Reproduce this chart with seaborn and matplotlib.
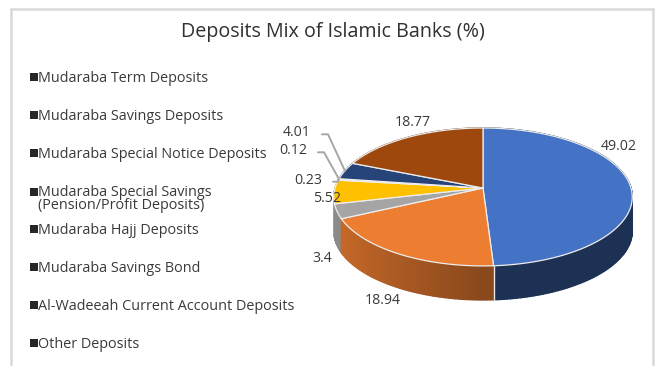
import numpy as np
import matplotlib
matplotlib.use("Agg")
import matplotlib.pyplot as plt
import seaborn as sns

TITLE = "Deposits Mix of Islamic Banks (%)"
categories = [
    "Mudaraba Term Deposits",
    "Mudaraba Savings Deposits",
    "Mudaraba Special Notice Deposits",
    "Mudaraba Special Savings\n(Pension/Profit Deposits)",
    "Mudaraba Hajj Deposits",
    "Mudaraba Savings Bond",
    "Al-Wadeeah Current Account Deposits",
    "Other Deposits",
]
# Slices run clockwise from twelve o'clock.
slice_values = [49.02, 18.94, 3.4, 5.52, 0.23, 0.12, 4.01, 18.77]
slice_colors = ["#4472C4", "#ED7D31", "#A5A5A5", "#FFC000",
                "#5B9BD5", "#70AD47", "#264478", "#9E480E"]
legend_rows = [78, 116, 154, 199, 230, 268, 306, 344]
label_places = [(619, 146), (383, 300), (322, 258), (327, 198),
                (308, 181), (293, 151), (297, 133), (413, 122)]
leader_elbows = {4: [(333, 181.7), (338, 181.7)],
                 5: [(318, 152.3), (324, 152.3)],
                 6: [(322, 134.3), (328, 134.3)]}

CX, CY = 483, 188       # pie apex in figure pixels
RX, RY = 148, 67.8      # projected radii
TILT = 0.13             # perspective strength
DEPTH = 34              # height of the side wall
FONT = "Open Sans"

sns.set_theme(style="white", rc={"font.family": FONT})
palette = sns.color_palette(slice_colors)
TEXT = "#3a3a3a"


def project(theta):
    """Map clockwise angles on the disc to the tilted pie surface."""
    u, v = np.sin(theta), -np.cos(theta)
    d = 1 - TILT * v
    return CX + RX * u / d, CY + RY * v / d


fig = plt.figure(figsize=(6.57, 3.66), dpi=100, facecolor="white")
ax = fig.add_axes([0, 0, 1, 1])
ax.set_xlim(0, 657)
ax.set_ylim(366, 0)
ax.axis("off")

# Chart frame, open at the lower edge
ax.plot([11, 11], [370, 8.5], color="#D9D9D9", lw=1.8)
ax.plot([11, 653], [8.5, 8.5], color="#D9D9D9", lw=1.8)
ax.plot([653, 653], [8.5, 370], color="#D9D9D9", lw=1.8)

edges = 2 * np.pi * np.concatenate([[0], np.cumsum(slice_values)]) / sum(slice_values)

# Side wall: short shaded strips, furthest first
strips = []
for k, (start, stop, color) in enumerate(zip(edges[:-1], edges[1:], palette)):
    n = max(2, int((stop - start) / 0.02))
    grid = np.linspace(start, stop, n + 1)
    for a, b in zip(grid[:-1], grid[1:]):
        strips.append((a, b, color, k))
strips.sort(key=lambda s: -np.cos((s[0] + s[1]) / 2))
for a, b, color, k in strips:
    xs, ys = project(np.array([a, b]))
    u = np.sin((a + b) / 2)
    shade = 0.43 if k == 0 else 0.58 + 0.28 * max(-u, 0)
    rgb = tuple(c * shade for c in color)
    ax.fill([xs[0], xs[1], xs[1], xs[0]],
            [ys[0], ys[1], ys[1] + DEPTH, ys[0] + DEPTH],
            facecolor=rgb, edgecolor=rgb, lw=1.0, zorder=2)

# Pale seam between the blue and orange walls
seam_x, seam_y = project(edges[1])
ax.plot([seam_x, seam_x], [seam_y, seam_y + DEPTH], color="#E6E6E6", lw=1, zorder=3)

# Top surface
for start, stop, color in zip(edges[:-1], edges[1:], palette):
    arc = np.linspace(start, stop, max(2, int((stop - start) / 0.01)))
    xs, ys = project(arc)
    ax.fill(np.r_[CX, xs], np.r_[CY, ys], facecolor=color,
            edgecolor="#EDEDED", lw=0.9, joinstyle="round", zorder=4)

# Leader lines for the narrow slices
for i, elbow in leader_elbows.items():
    tip_x, tip_y = project((edges[i] + edges[i + 1]) / 2)
    px, py = zip(*elbow, (tip_x, tip_y))
    ax.plot(px, py, color="#A6A6A6", lw=1.4, zorder=5)

# Value labels
for value, (x, y) in zip(slice_values, label_places):
    ax.text(x, y, f"{value:g}", ha="center", va="center",
            fontsize=10.2, color=TEXT, zorder=6)

ax.text(333, 31.5, TITLE, ha="center", va="center", fontsize=14.2, color="#303030")

# Legend column
sns.scatterplot(x=[33.5] * len(legend_rows),
                y=[r + (-7 if "\n" in c else -1) for r, c in zip(legend_rows, categories)],
                marker="s", s=28, color="#262626", linewidth=0, ax=ax,
                legend=False, clip_on=False)
for row, label in zip(legend_rows, categories):
    ax.text(38, row, label, ha="left", va="center", fontsize=10.35,
            color=TEXT, linespacing=0.9)

ax.set_xlim(0, 657)
ax.set_ylim(366, 0)
fig.savefig("out.png", dpi=100)
